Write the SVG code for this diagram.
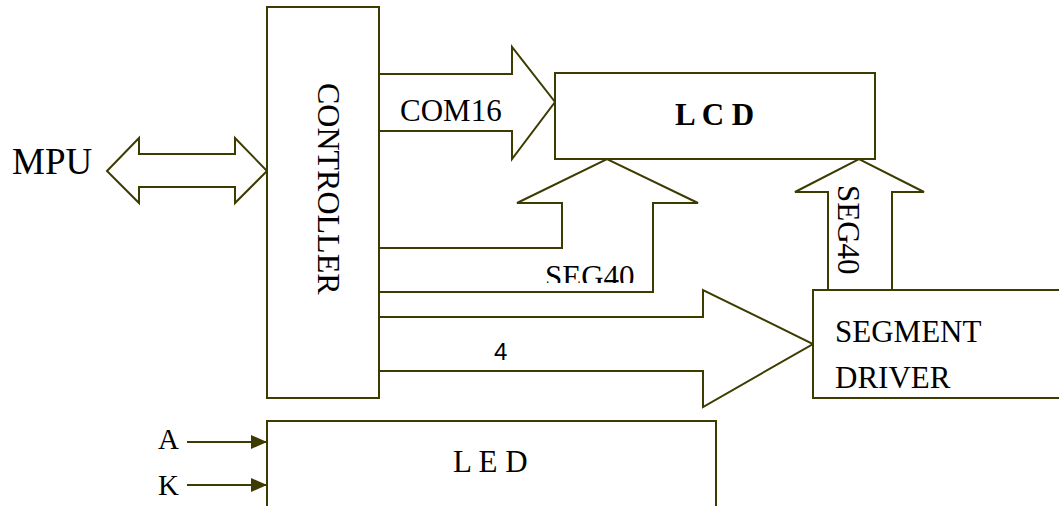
<svg xmlns="http://www.w3.org/2000/svg" width="1059" height="506" viewBox="0 0 1059 506">
  <style>
    .box { fill: #ffffff; stroke: #3c3c00; stroke-width: 2; }
    .conn { fill: none; stroke: #3c3c00; stroke-width: 2; stroke-linejoin: miter; }
    .t { font-family: "Liberation Serif", "Times New Roman", serif; font-size: 31px; fill: #000; }
  </style>
  <defs>
    <marker id="arr" viewBox="0 0 16 14" refX="16" refY="7" markerWidth="16" markerHeight="14" markerUnits="userSpaceOnUse" orient="auto">
      <path d="M0,0 L16,7 L0,14 Z" fill="#3c3c00"/>
    </marker>
    <clipPath id="segclip">
      <rect x="500" y="250" width="200" height="33"/>
    </clipPath>
  </defs>
  <rect width="1059" height="506" fill="#ffffff"/>

  <g id="connectors">
    <polygon class="conn" points="107,171 139,138 139,154 235,154 235,138 267,171 235,203 235,187 139,187 139,203"/>
    <polyline class="conn" points="379,74 512,74 512,47 555,102 512,159 512,131 379,131"/>
    <polyline class="conn" points="379,248 562,248 562,203 517,203 607,159 698,203 653,203 653,292 379,292"/>
    <polyline class="conn" points="828,290 828,192 795,192 859,159 924,192 892,192 892,290"/>
    <polyline class="conn" points="379,317 703,317 703,290 813,344 703,407 703,371 379,371"/>
    <line class="conn" x1="187" y1="442" x2="267" y2="442" marker-end="url(#arr)"/>
    <line class="conn" x1="187" y1="485" x2="267" y2="485" marker-end="url(#arr)"/>
    <text class="t" x="400" y="121">COM16</text>
    <text class="t" x="545" y="287" clip-path="url(#segclip)">SEG40</text>
    <text class="t" transform="translate(838,185) rotate(90)">SEG40</text>
    <text x="494" y="360" font-family="Liberation Sans, Arial, sans-serif" font-size="24" fill="#000">4</text>
  </g>

  <g id="mpu">
    <text class="t" x="12" y="174" font-size="37" style="font-size:37px">MPU</text>
  </g>

  <g id="controller">
    <rect class="box" x="267" y="7" width="112" height="391"/>
    <text class="t" transform="translate(318,83) rotate(90)" style="font-size:32px">CONTROLLER</text>
  </g>

  <g id="lcd">
    <rect class="box" x="555" y="73" width="320" height="86"/>
    <text class="t" x="675" y="125" font-weight="bold">L C D</text>
  </g>

  <g id="segment-driver">
    <rect class="box" x="813" y="290" width="260" height="108"/>
    <text class="t" x="835" y="342">SEGMENT</text>
    <text class="t" x="835" y="388">DRIVER</text>
  </g>

  <g id="led">
    <rect class="box" x="267" y="421" width="449" height="100"/>
    <text class="t" x="453" y="472">L E D</text>
  </g>

  <g id="inputs">
    <text class="t" x="158" y="449" style="font-size:29px">A</text>
    <text class="t" x="158" y="495" style="font-size:29px">K</text>
  </g>
</svg>
